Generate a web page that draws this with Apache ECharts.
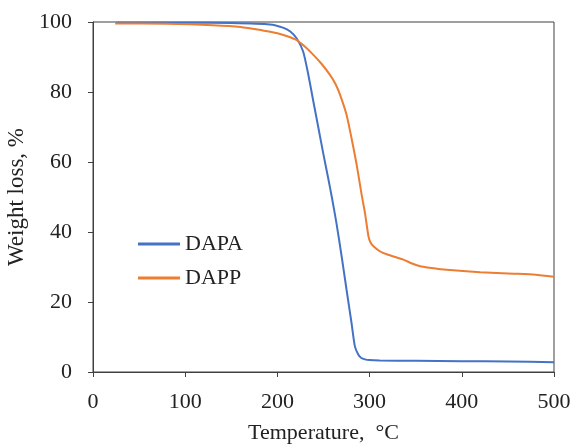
<!DOCTYPE html>
<html><head><meta charset="utf-8">
<script src="https://cdn.jsdelivr.net/npm/echarts@6/dist/echarts.min.js"></script>
<style>html,body{margin:0;padding:0;background:#fff}#c{width:574px;height:444px}</style>
</head><body><div id="c"></div>
<script>
var seriesNames = ['DAPA', 'DAPP'];
var xTicks = [0, 100, 200, 300, 400, 500];
var yTicks = [0, 20, 40, 60, 80, 100];
var xTitle = 'Temperature,  °C';
var yTitle = 'Weight loss, %';
var dapa = [[25,99.8],[100,99.8],[150,99.7],[192,99.3],[206,98.4],[214,97.3],[221,95.3],[228,91.5],[233.5,85],[239,77.3],[244.5,69.7],[250,62.1],[255,55.5],[259,50],[264,42.6],[269.7,33],[275,23.5],[280.4,14],[284,7.4],[287.7,5],[291,4.0],[295,3.6],[300,3.4],[311,3.3],[350,3.2],[400,3.1],[450,3.0],[500,2.8]];
var dapp = [[24,99.6],[80,99.5],[130,99.1],[160,98.6],[184,97.6],[200,96.8],[210,96],[221,94.8],[230,92.9],[239,90.6],[248,88],[257,84.9],[263,82.3],[268,79.2],[275,73.5],[280.4,66.8],[286,59.2],[291.4,50.6],[295,45.4],[298.8,38.7],[301,37],[304.2,35.9],[311,34.5],[320,33.5],[336.6,32.1],[346,31],[355,30.2],[365,29.8],[383.5,29.2],[420,28.5],[456,28.1],[480,27.8],[500,27.2]];
var colors = ['#4472C4', '#ED7D31'];

var font = 'Liberation Serif';
var txt = '#222222';
var axisColor = '#404040';
var chart = echarts.init(document.getElementById('c'));
chart.setOption({
  animation: false,
  grid: {left: 93, right: 20, top: 22, bottom: 72, show: true, borderColor: axisColor, borderWidth: 1, containLabel: false, outerBoundsMode: 'none'},
  legend: {
    orient: 'vertical', left: 133, top: 228, itemWidth: 42, itemHeight: 3, itemGap: 12, icon: 'rect',
    data: seriesNames,
    textStyle: {fontFamily: font, fontSize: 22, color: txt, lineHeight: 22}
  },
  xAxis: {
    type: 'value', min: xTicks[0], max: xTicks[xTicks.length-1], interval: 100,
    name: xTitle, nameLocation: 'middle', nameGap: 50,
    nameTextStyle: {fontFamily: font, fontSize: 22, color: txt},
    axisLine: {show: true, lineStyle: {color: axisColor, width: 1}},
    axisTick: {show: true, inside: false, length: 5, lineStyle: {color: axisColor}},
    axisLabel: {fontFamily: font, fontSize: 22, color: txt, margin: 19},
    splitLine: {show: false}
  },
  yAxis: {
    type: 'value', min: yTicks[0], max: yTicks[yTicks.length-1], interval: 20,
    name: yTitle, nameLocation: 'middle', nameGap: 56,
    nameTextStyle: {fontFamily: font, fontSize: 23, color: txt},
    axisLine: {show: true, lineStyle: {color: axisColor, width: 1}},
    axisTick: {show: true, inside: false, length: 5, lineStyle: {color: axisColor}},
    axisLabel: {fontFamily: font, fontSize: 22, color: txt, margin: 21},
    splitLine: {show: false}
  },
  series: [
    {name: seriesNames[0], type: 'line', data: dapa, showSymbol: false, smooth: 0.2, lineStyle: {color: colors[0], width: 2}, itemStyle: {color: colors[0]}},
    {name: seriesNames[1], type: 'line', data: dapp, showSymbol: false, smooth: 0.2, lineStyle: {color: colors[1], width: 2}, itemStyle: {color: colors[1]}}
  ]
});
</script></body></html>
